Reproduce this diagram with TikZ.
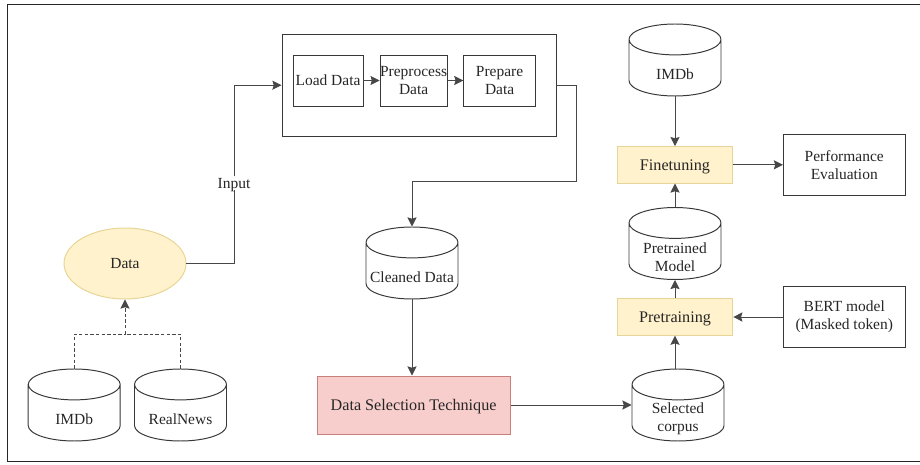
\documentclass[tikz,border=0pt]{standalone}
\usepackage{fontspec}
\setmainfont{Liberation Serif}
\usepgflibrary{arrows.meta,shapes.geometric}
\definecolor{fillyellow}{HTML}{FFF2CC}
\definecolor{lineyellow}{HTML}{E6D596}
\definecolor{fillred}{HTML}{F8CECC}
\definecolor{linered}{HTML}{C9807C}
\tikzset{
  every node/.style={font=\fontsize{11}{12.8}\selectfont, align=center, inner sep=0pt, text=black!85},
  line/.style={line width=.7pt, color=black!72},
  flow/.style={line, arrows={-Stealth[length=6.5pt,width=6.5pt,inset=1pt]}},
  dashline/.style={line, dash pattern=on 2.4pt off 1.6pt},
  box/.style={draw=black!78, line width=.7pt, rectangle},
  drum/.style={cylinder, anchor=shape center, draw=black!78, line width=.7pt, shape border rotate=90, aspect=6,
    minimum width=2.3cm, minimum height=1.8cm},
  drumtext/.style={yshift=-.15cm},
  stage/.style={rectangle, draw=lineyellow, line width=.7pt, fill=fillyellow,
    font=\fontsize{11.5}{12.8}\selectfont, text depth=0pt,
    minimum width=2.89cm, minimum height=.91cm},
  result/.style={box, minimum width=3.04cm, minimum height=1.525cm}
}
\begin{document}
\begin{tikzpicture}
      \useasboundingbox (0,0) rectangle (23,11.6);
      \draw[line, color=black!85] (23,11.5) -- (.175,11.5) -- (.175,.06) -- (23,.06);
      
      % left side
      \node[ellipse, draw=lineyellow, line width=.7pt, fill=fillyellow,
      minimum width=3.05cm, minimum height=1.775cm] (data) at (3.125,5.0125) {Data};
      \node[drum, label={[drumtext]center:IMDb}] (imdbleft) at (1.856,1.475) {\phantom{I}};
      \node[drum, label={[drumtext]center:RealNews}] (realnews) at (4.5125,1.475) {\phantom{I}};
      \coordinate (merge) at (3.125,3.25);
      \draw[dashline] (imdbleft.top) |- (merge);
      \draw[dashline] (realnews.top) |- (merge);
      \draw[dashline, flow] (merge) -- (data.south);
      
      % preparation block
      \node[box, minimum width=6.85cm, minimum height=2.54cm] (prep) at (10.475,9.47) {};
      \node[box, minimum width=1.75cm, minimum height=1.275cm] (load) at (8.2,9.5875) {Load Data};
      \node[box, minimum width=1.66cm, minimum height=1.275cm] (preprocess) at (10.34,9.5875) {Preprocess\\Data};
      \node[box, minimum width=1.79cm, minimum height=1.275cm] (prepare) at (12.49,9.5875) {Prepare\\Data};
      \draw[flow] (load) -- (preprocess);
      \draw[flow] (preprocess) -- (prepare);
      
      \node[fill=white, inner sep=1pt, text depth=0pt] (input) at (5.85,7.025) {Input};
      \draw[line] (data.east) -| (input.south);
      \draw[flow] (input.north) |- (prep.west);
      
      % middle
      \node[drum, label={[drumtext]center:Cleaned Data}] (cleaned) at (10.3,5.025) {\phantom{I}};
      \coordinate (bend) at (14.4,7.075);
      \draw[flow] (prep.east) -| (bend) -| (cleaned.top);
      \node[rectangle, draw=linered, line width=.7pt, fill=fillred, font=\fontsize{11.5}{12.8}\selectfont, text depth=0pt,
      minimum width=4.825cm, minimum height=1.45cm] (selection) at (10.34,1.475) {Data Selection Technique};
      \draw[flow] (cleaned.bottom) -- (cleaned.bottom |- selection.north);
      \node[drum, label={[drumtext]center:Selected\\corpus}] (corpus) at (16.95,1.475) {\phantom{I}};
      \draw[flow] (selection.east) -- (corpus.west |- selection.east);
      
      % right side
      \node[stage] (pretrain) at (16.875,3.675) {Pretraining};
      \node[drum, label={[drumtext]center:Pretrained\\Model}] (pretrained) at (16.875,5.5125) {\phantom{I}};
      \node[stage] (finetune) at (16.875,7.48) {Finetuning};
      \node[drum, label={[drumtext]center:IMDb}] (imdbright) at (16.875,10.1) {\phantom{I}};
      \node[result] (bert) at (21.106,3.675) {BERT model\\(Masked token)};
      \node[result] (perf) at (21.106,7.48) {Performance\\Evaluation};
      \draw[flow] (pretrain.south |- corpus.top) -- (pretrain.south);
      \draw[flow] (pretrain) -- (pretrained.bottom);
      \draw[flow] (pretrained.top) -- (finetune.south);
      \draw[flow] (imdbright.bottom) -- (finetune.north);
      \draw[flow] (bert) -- (pretrain);
      \draw[flow] (finetune) -- (perf);
    \end{tikzpicture}
\end{document}
